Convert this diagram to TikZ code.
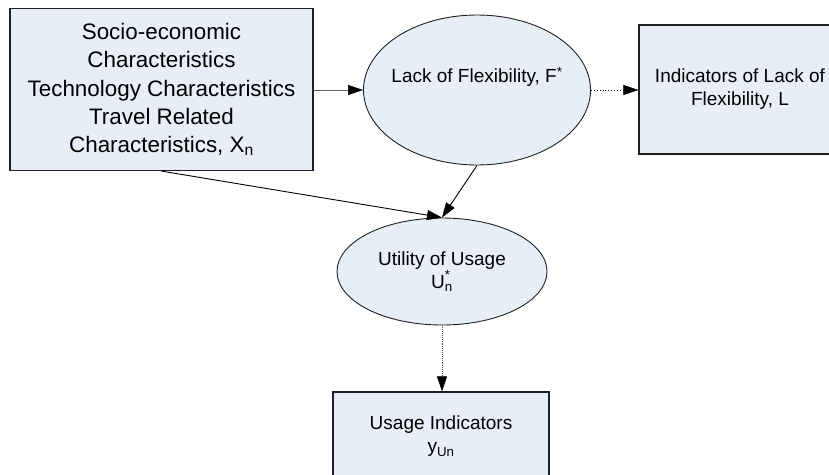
\documentclass[tikz,border=0pt]{standalone}
\usepackage{fontspec}
\setmainfont{Liberation Sans}
\usetikzlibrary{shapes.geometric,arrows.meta}
\definecolor{boxfill}{HTML}{E8EEF7}
\definecolor{edge}{HTML}{202020}
\newcommand{\subn}[1]{\textsubscript{#1}}
\begin{document}
\begin{tikzpicture}[x=1pt,y=-1pt,
  rbox/.style={draw=edge,line width=1.2pt,fill=boxfill,rectangle,inner sep=0pt,align=center},
  ell/.style={draw=edge,line width=0.9pt,fill=boxfill,ellipse,inner sep=0pt,align=center},
  big/.style={font=\fontsize{22.4}{28.3}\selectfont},
  small/.style={font=\fontsize{19}{23}\selectfont},
  conn/.style={line width=0.9pt,-{Triangle[length=15pt,width=10pt,color=black,fill=black,line width=0.5pt]}}]
\clip (0,0) rectangle (829,474);
\fill[white] (0,0) rectangle (829,474);
\node[rbox,big,minimum width=303pt,minimum height=162pt] (soc) at (161.5,89.5)
  {Socio-economic\\Characteristics\\Technology Characteristics\\Travel Related\\Characteristics, X\subn{n}};
\node[ell,minimum width=227pt,minimum height=150pt] (flex) at (477,90) {};
\node[small,inner sep=0pt] (flextext) at (477,77) {Lack of Flexibility, F\textsuperscript{*}};
\node[rbox,small,minimum width=202pt,minimum height=129pt] (ind) at (740,89.5)
  {Indicators of Lack of\\Flexibility, L};
\node[ell,small,minimum width=210pt,minimum height=107pt] (util) at (442,271.5)
  {Utility of Usage\\U\rlap{\raisebox{0.15em}{\textsuperscript{*}}}\subn{n}};
\node[rbox,small,minimum width=216pt,minimum height=89pt] (use) at (441,436.5)
  {Usage Indicators\\y\subn{Un}};
\draw[conn,draw=edge!70] (soc.east |- flex.west) -- (flex.west);
\draw[conn,dotted] (flex.east) -- (ind.west |- flex.east);
\draw[conn] (soc.south) -- (util.north);
\draw[conn] (flex.south) -- (util.north);
\draw[conn,densely dotted,draw=edge!80,line width=0.6pt] (util.south) -- (use.north -| util.south);
\end{tikzpicture}
\end{document}
